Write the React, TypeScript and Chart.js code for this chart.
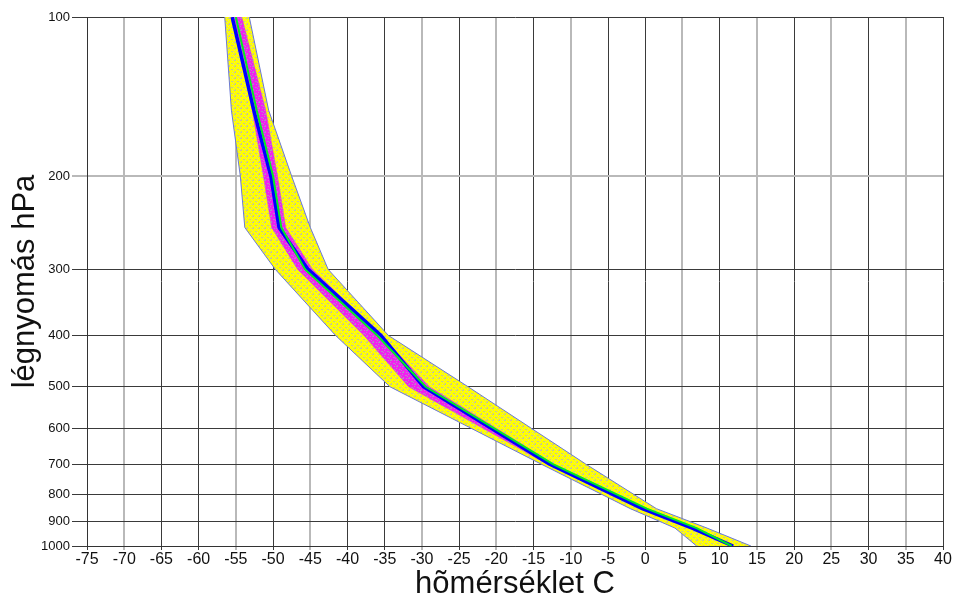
import { useEffect, useRef } from 'react';
import { Chart, registerables } from 'chart.js';

Chart.register(...registerables);

// Pressure levels (hPa)
const pressureLevels = [100, 150, 200, 250, 300, 400, 500, 700, 850, 925, 1000];
// Ensemble envelope (yellow) – coldest / warmest member, °C
const ensembleMin = [-56.5, -55.6, -54.4, -53.8, -49.7, -41.6, -34.3, -14.0, -2.0, 4.0, 6.9];
const ensembleMax = [-53.2, -50.6, -47.5, -45.0, -42.6, -34.5, -23.8, -8.0, 1.5, 8.3, 14.2];
// Inner spread band (magenta)
const innerLow = [-55.4, -52.8, -51.3, -50.2, -46.7, -37.8, -31.8, -13.2, -0.6, 6.0, 11.3];
const innerHigh = [-54.2, -51.0, -49.4, -48.3, -44.7, -35.5, -29.0, -12.3, 0.3, 6.9, 11.9];
// Blue line and green line
const blueTemp = [-55.5, -52.6, -50.3, -49.2, -45.3, -35.5, -29.8, -12.9, -0.4, 6.3, 11.8];
const greenTemp = [-55.0, -52.2, -50.0, -48.9, -45.7, -36.0, -29.5, -12.4, 0.2, 6.9, 11.6];

// Tick labels
const xTickValues = [-75, -70, -65, -60, -55, -50, -45, -40, -35, -30, -25, -20, -15, -10, -5, 0, 5, 10, 15, 20, 25, 30, 35, 40];
const yTickValues = [100, 200, 300, 400, 500, 600, 700, 800, 900, 1000];

const xTitle = 'hõmérséklet C';
const yTitle = 'légnyomás hPa';

// style: grid lines that look light/soft in the reference
const softGridX = new Set([-70, -55, -45, -30, -20, -10, 5, 15, 25, 35]);
const softGridY = new Set([200]);

const toPoints = (temps: number[]) => temps.map((t, i) => ({ x: t, y: pressureLevels[i] }));

function makePattern(bg: string, fg: string, fg2: string): CanvasPattern | string {
  const c = document.createElement('canvas');
  c.width = 6;
  c.height = 6;
  const g = c.getContext('2d');
  if (!g) return bg;
  g.fillStyle = bg;
  g.fillRect(0, 0, 6, 6);
  g.fillStyle = fg;
  g.fillRect(0, 0, 2, 1);
  g.fillRect(3, 3, 2, 1);
  g.fillRect(1, 5, 1, 1);
  g.fillStyle = fg2;
  g.fillRect(4, 0, 1, 1);
  g.fillRect(0, 2, 1, 1);
  g.fillRect(5, 4, 1, 1);
  const p = g.createPattern(c, 'repeat');
  return p || bg;
}

export default function App() {
  const canvasRef = useRef<HTMLCanvasElement | null>(null);

  useEffect(() => {
    document.body.style.margin = '0';
    const canvas = canvasRef.current;
    if (!canvas) return;
    const yellowFill = makePattern('#ffff00', '#c4c29a', '#dedc80');
    const magentaFill = makePattern('#f020f0', '#b08cc4', '#d070d8');

    const labelFont = "'Liberation Sans', Arial, sans-serif";

    const chart = new Chart(canvas, {
      type: 'line',
      data: {
        datasets: [
          {
            label: 'green',
            data: toPoints(greenTemp),
            borderColor: '#00ee20',
            borderWidth: 2,
            pointRadius: 0,
            fill: false,
            tension: 0,
          },
          {
            label: 'blue',
            data: toPoints(blueTemp),
            borderColor: '#0000ff',
            borderWidth: 3.5,
            pointRadius: 0,
            fill: false,
            tension: 0,
          },
          {
            label: 'innerHigh',
            data: toPoints(innerHigh),
            borderColor: 'rgba(190,90,210,0.5)',
            borderWidth: 1,
            pointRadius: 0,
            fill: false,
            tension: 0,
          },
          {
            label: 'innerLow',
            data: toPoints(innerLow),
            borderColor: 'rgba(190,90,210,0.5)',
            borderWidth: 1,
            pointRadius: 0,
            backgroundColor: magentaFill as any,
            fill: '-1',
            tension: 0,
          },
          {
            label: 'max',
            data: toPoints(ensembleMax),
            borderColor: '#6a78d8',
            borderWidth: 1,
            pointRadius: 0,
            fill: false,
            tension: 0,
          },
          {
            label: 'min',
            data: toPoints(ensembleMin),
            borderColor: '#6a78d8',
            borderWidth: 1,
            pointRadius: 0,
            backgroundColor: yellowFill as any,
            fill: '-1',
            tension: 0,
          },
        ],
      },
      options: {
        responsive: false,
        animation: false,
        indexAxis: 'y',
        layout: { padding: { top: 17, right: 16, left: 0, bottom: 0 } },
        plugins: {
          legend: { display: false },
          tooltip: { enabled: false },
          title: { display: false },
        },
        scales: {
          x: {
            type: 'linear',
            position: 'bottom',
            min: -75,
            max: 40,
            afterBuildTicks: (s: any) => {
              s.ticks = xTickValues.map((v) => ({ value: v }));
            },
            afterFit: (s: any) => {
              s.height = 60;
            },
            ticks: {
              autoSkip: false,
              maxRotation: 0,
              padding: 0,
              color: '#111',
              font: { family: labelFont, size: 16 },
              callback: (v: any) => String(v),
            },
            grid: {
              color: (ctx: any) => (softGridX.has(ctx.tick?.value) ? '#b9b9b9' : '#3a3a3a'),
              lineWidth: (ctx: any) => (softGridX.has(ctx.tick?.value) ? 2 : 1),
              tickLength: 4,
            },
            border: { color: '#333', width: 1 },
            title: {
              display: true,
              text: xTitle,
              color: '#111',
              font: { family: labelFont, size: 31 },
              padding: { top: 0, bottom: 3 },
            },
          },
          y: {
            type: 'logarithmic',
            reverse: true,
            min: 100,
            max: 1000,
            afterBuildTicks: (s: any) => {
              s.ticks = yTickValues.map((v) => ({ value: v }));
            },
            afterFit: (s: any) => {
              s.width = 87;
            },
            ticks: {
              autoSkip: false,
              padding: 2,
              color: '#111',
              font: { family: labelFont, size: 13 },
              callback: (v: any) => String(v),
            },
            grid: {
              color: (ctx: any) => (softGridY.has(ctx.tick?.value) ? '#b9b9b9' : '#3a3a3a'),
              lineWidth: (ctx: any) => (softGridY.has(ctx.tick?.value) ? 2 : 1),
              tickLength: 15,
            },
            border: { color: '#333', width: 1 },
            title: {
              display: true,
              text: yTitle,
              color: '#111',
              font: { family: labelFont, size: 31 },
              padding: { top: 7, bottom: 0 },
            },
          },
        },
      } as any,
    });
    return () => chart.destroy();
  }, []);

  return (
    <div style={{ width: 959, height: 606, background: '#fff' }}>
      <canvas ref={canvasRef} width={959} height={606} />
    </div>
  );
}
